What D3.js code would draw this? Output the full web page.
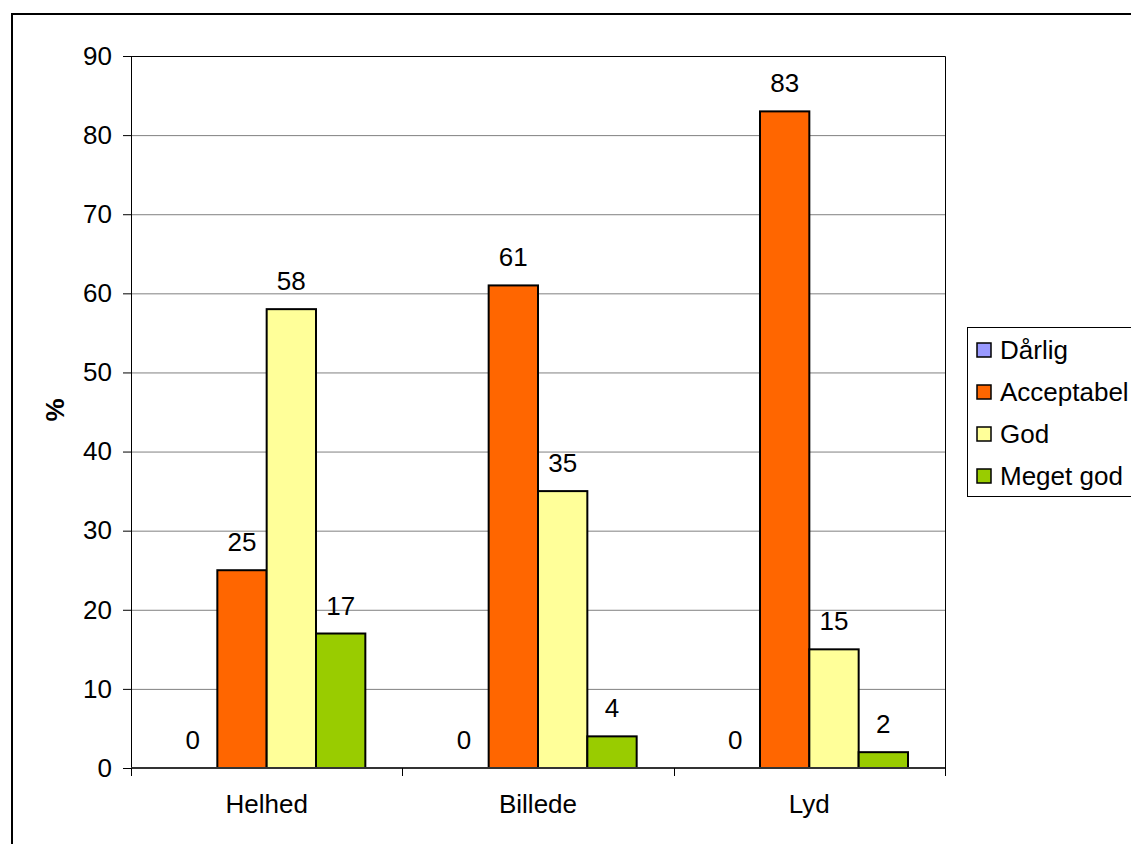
<!DOCTYPE html>
<html>
<head>
<meta charset="utf-8">
<script src="https://cdn.jsdelivr.net/npm/d3@7"></script>
<style>
  body { margin: 0; background: #fff; }
  svg { font-family: Arial, "Liberation Sans", sans-serif; }
</style>
</head>
<body>
<div id="chart"></div>
<script>
// chart data
const categories = ["Helhed", "Billede", "Lyd"];
const seriesNames = ["Dårlig", "Acceptabel", "God", "Meget god"];
const seriesColors = ["#9999FF", "#FF6600", "#FFFF99", "#99CC00"];
const darlig = [0, 0, 0];
const acceptabel = [25, 61, 83];
const god = [58, 35, 15];
const megetGod = [17, 4, 2];
const yTicks = [0, 10, 20, 30, 40, 50, 60, 70, 80, 90];

const seriesValues = [darlig, acceptabel, god, megetGod];

const W = 1131, H = 844;
const fontSize = 26;
let margin = {top: 56, right: 186, bottom: 76, left: 131};
let width = W - margin.left - margin.right;
let height = H - margin.top - margin.bottom;

let svg = d3.select("#chart").append("svg")
    .attr("width", W)
    .attr("height", H);

// outer chart border
svg.append("rect")
    .attr("x", 12).attr("y", 14)
    .attr("width", W).attr("height", H)
    .attr("fill", "none")
    .attr("stroke", "#000")
    .attr("stroke-width", 2);

let g = svg.append("g")
    .attr("transform", `translate(${margin.left},${margin.top})`);

let x0 = d3.scaleBand(categories, [0, width]);
// gap width 150% -> 4 bars + 1.5 bar of gap
let barW = x0.bandwidth() / (seriesNames.length + 1.5);
let x1 = d3.scaleBand(seriesNames, [0, barW * seriesNames.length]);
let y = d3.scaleLinear([0, 90], [height, 0]);

// gridlines
g.append("g")
    .selectAll("line")
    .data(yTicks.filter(d => d > 0 && d < 90))
    .join("line")
    .attr("x1", 0).attr("x2", width)
    .attr("y1", d => y(d) + 0.5).attr("y2", d => y(d) + 0.5)
    .attr("stroke", "#808080")
    .attr("stroke-width", 1);

// plot area border (top + right)
g.append("path")
    .attr("d", `M0,0.5H${width + 0.5}V${height}`)
    .attr("fill", "none")
    .attr("stroke", "#000");

// bars
let groups = g.append("g")
    .selectAll("g")
    .data(categories)
    .join("g")
    .attr("transform", d => `translate(${x0(d) + barW * 0.75},0)`);

groups.selectAll("rect")
    .data((c, i) => seriesNames.map((s, j) => ({s, j, v: seriesValues[j][i]})))
    .join("rect")
    .attr("x", d => x1(d.s))
    .attr("y", d => y(d.v))
    .attr("width", x1.bandwidth())
    .attr("height", d => height - y(d.v))
    .attr("fill", d => seriesColors[d.j])
    .attr("stroke", "#000")
    .attr("stroke-width", d => d.v > 0 ? 2 : 0);

groups.selectAll("text")
    .data((c, i) => seriesNames.map((s, j) => ({s, j, v: seriesValues[j][i]})))
    .join("text")
    .attr("x", d => x1(d.s) + x1.bandwidth() / 2)
    .attr("y", d => y(d.v) - 19)
    .attr("text-anchor", "middle")
    .attr("font-size", fontSize)
    .attr("fill", "#000")
    .text(d => d.v);

// y axis
let yAxis = g.append("g")
    .call(d3.axisLeft(y).tickValues(yTicks).tickSize(8).tickPadding(11))
    .call(a => a.select(".domain").attr("stroke", "#000").attr("d", `M0.5,0V${height}`));
yAxis.selectAll("text").attr("font-size", fontSize).attr("fill", "#000")
    .attr("font-family", "Arial, 'Liberation Sans', sans-serif");
yAxis.selectAll(".tick line").attr("stroke", "#000");

// x axis
let xAxis = g.append("g")
    .attr("transform", `translate(0,${height})`);
xAxis.append("line")
    .attr("x1", 0).attr("x2", width)
    .attr("stroke", "#333").attr("stroke-width", 2);
xAxis.selectAll(".cat-tick")
    .data(d3.range(categories.length + 1))
    .join("line")
    .attr("class", "cat-tick")
    .attr("x1", i => Math.round(i * x0.bandwidth()) + 0.5)
    .attr("x2", i => Math.round(i * x0.bandwidth()) + 0.5)
    .attr("y1", 0).attr("y2", 8)
    .attr("stroke", "#000");
xAxis.selectAll("text")
    .data(categories)
    .join("text")
    .attr("x", d => x0(d) + x0.bandwidth() / 2)
    .attr("y", 45)
    .attr("text-anchor", "middle")
    .attr("font-size", fontSize)
    .text(d => d);

// y axis title
svg.append("text")
    .attr("transform", `translate(64,410) rotate(-90)`)
    .attr("text-anchor", "middle")
    .attr("font-size", fontSize)
    .attr("font-weight", "bold")
    .text("%");

// legend
let legend = svg.append("g").attr("transform", "translate(967,327)");
legend.append("rect")
    .attr("x", 0.5).attr("y", 0.5)
    .attr("width", 170).attr("height", 169)
    .attr("fill", "#fff")
    .attr("stroke", "#000");
let items = legend.selectAll("g")
    .data(seriesNames)
    .join("g")
    .attr("transform", (d, i) => `translate(10,${23 + i * 42})`);
items.append("rect")
    .attr("x", 0).attr("y", -7)
    .attr("width", 14).attr("height", 14)
    .attr("fill", (d, i) => seriesColors[i])
    .attr("stroke", "#000")
    .attr("stroke-width", 1.5);
items.append("text")
    .attr("x", 23)
    .attr("y", 9)
    .attr("font-size", fontSize)
    .text(d => d);
</script>
</body>
</html>
